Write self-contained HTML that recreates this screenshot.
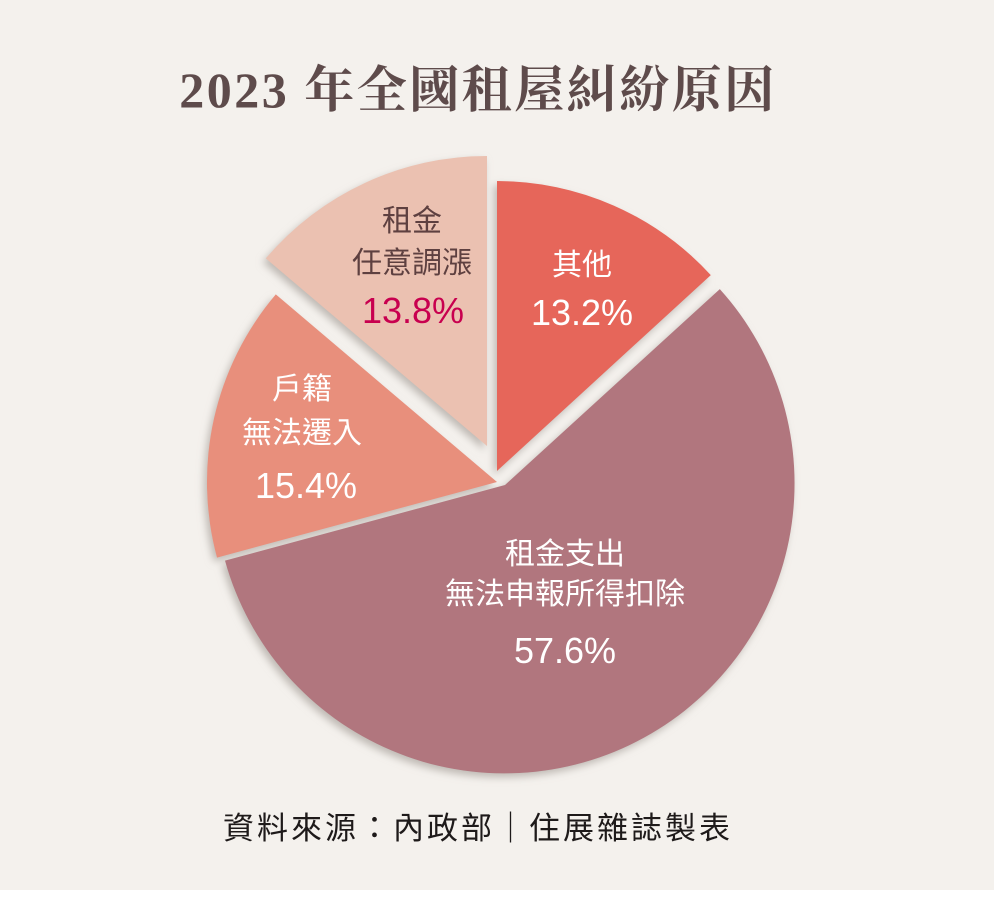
<!DOCTYPE html>
<html><head><meta charset="utf-8"><style>
html,body{margin:0;padding:0;background:#fff}
.wrap{width:994px;height:890px;background:#f4f1ed;position:relative;overflow:hidden}
</style></head><body>
<div class="wrap">
<svg width="994" height="900" viewBox="0 0 994 900" xmlns="http://www.w3.org/2000/svg" style="position:absolute;left:0;top:0">
<defs>
<filter id="sh" x="-20%" y="-20%" width="140%" height="140%">
<feDropShadow dx="-3" dy="4" stdDeviation="4" flood-color="#b9b3ad" flood-opacity="0.9"/>
</filter>
</defs>
<text x="478" y="107" text-anchor="middle" font-family="'Liberation Serif','Noto Serif CJK SC',serif" font-size="50" font-weight="bold" fill="#5e4b4b" letter-spacing="2.5">2023 年全國租屋糾紛原因</text>
<g filter="url(#sh)">
<path d="M505,485 L719.8,289.1 A290,290 0 1 1 225,560.6 Z" fill="#b1767e"/>
<path d="M497,482 L217,557.6 A290,290 0 0 1 275.8,294.4 Z" fill="#e88f7c"/>
<path d="M487,446 L265.8,258.4 A290,290 0 0 1 487,156 Z" fill="#ebc1b1"/>
<path d="M497,471 L497,181 A290,290 0 0 1 710.8,275.1 Z" fill="#e6665a"/>
</g>
<g font-family="'Liberation Sans','Noto Sans CJK TC',sans-serif" text-anchor="middle">
<text x="582" y="275" font-size="30" fill="#fff">其他</text>
<text x="582" y="325" font-size="36" fill="#fff">13.2%</text>
<text x="412" y="231" font-size="30" fill="#5e4040">租金</text>
<text x="412" y="273" font-size="30" fill="#5e4040">任意調漲</text>
<text x="413" y="323" font-size="36" fill="#c8004f">13.8%</text>
<text x="302" y="399" font-size="30" fill="#fff">戶籍</text>
<text x="302" y="443" font-size="30" fill="#fff">無法遷入</text>
<text x="306" y="498" font-size="36" fill="#fff">15.4%</text>
<text x="565" y="564" font-size="30" fill="#fff">租金支出</text>
<text x="565" y="604" font-size="30" fill="#fff">無法申報所得扣除</text>
<text x="565" y="663" font-size="36" fill="#fff">57.6%</text>
</g>
<text x="478" y="839" text-anchor="middle" font-family="'Liberation Sans','Noto Sans CJK TC',sans-serif" font-size="31" fill="#1e1a1a" letter-spacing="3">資料來源：內政部｜住展雜誌製表</text>
</svg>
</div>
</body></html>
